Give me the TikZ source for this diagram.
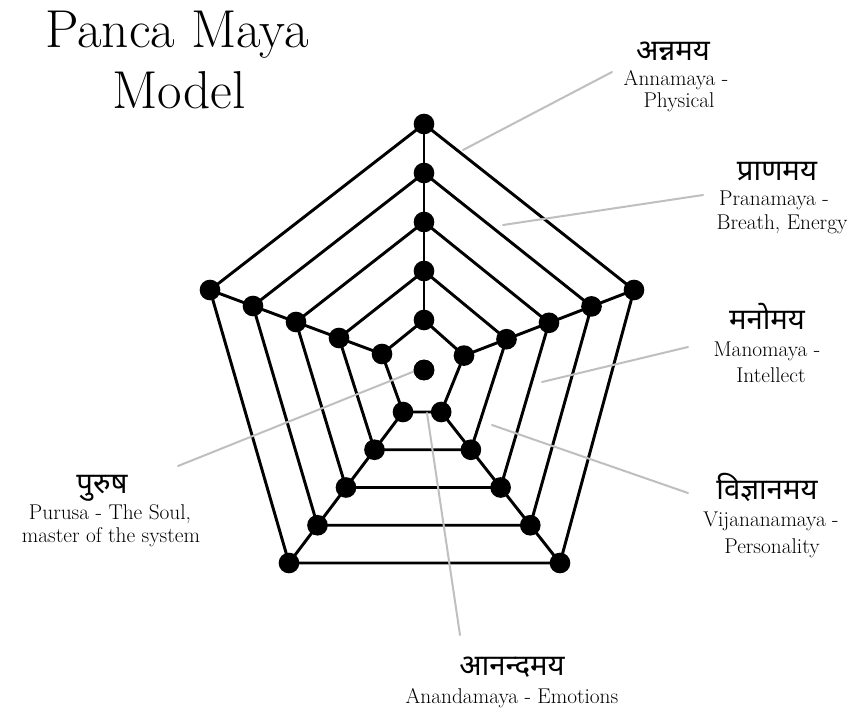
\documentclass[tikz,border=0pt]{standalone}
\usepackage{fontspec}
\newfontfamily\deva[Script=Devanagari]{Noto Sans}
\usepackage{tikz}

\tikzset{
  dot/.style={circle, fill=black, inner sep=0pt, minimum size=15.5pt},
  ring/.style={line width=2.2pt},
  leader/.style={black!25, line width=1.5pt},
  dname/.style={font=\deva\fontsize{22}{24}\selectfont, anchor=base, inner sep=0pt},
  ename/.style={font=\fontsize{16}{17}\selectfont\addfontfeature{LetterSpace=5}, anchor=base, inner sep=0pt},
  titletext/.style={font=\fontsize{40}{44}\selectfont\addfontfeature{LetterSpace=6}, anchor=base, inner sep=0pt},
}

\begin{document}
\begin{tikzpicture}[x=0.75pt, y=-0.75pt, line cap=round, line join=round]
    \useasboundingbox[fill=white] (0,0) rectangle (865,708);

    % Title
    \node[titletext] (title1) at (177,47) {Panca Maya};
    \node[titletext] (title2) at (179,108) {Model};

    % Dots of the five sheaths
    \node[dot] (c) at (424,370) {};
    \foreach \k in {1,...,5}{
        \node[dot] (t\k)  at (424, {369-49*\k}) {};
        \node[dot] (l\k)  at ({425-43*\k}, {370-16*\k}) {};
        \node[dot] (r\k)  at ({421.5+42.5*\k}, {372-16.4*\k}) {};
        \node[dot] (bl\k) at ({431.5-28.5*\k}, {374.25+37.75*\k}) {};
        \node[dot] (br\k) at ({411.5+29.7*\k}, {374.25+37.75*\k}) {};
    }

    % Rings
    \foreach \k in {1,...,5}{
        \draw[ring] (t\k.center) -- (r\k.center) -- (br\k.center) -- (bl\k.center) -- (l\k.center) -- cycle;
    }

    % Spokes
    \foreach \p in {t,l,r,bl,br}{
        \draw[ring] (\p1.center) -- (\p5.center);
    }

    % Leader lines
    \coordinate (a1) at (463,150);  \coordinate (a2) at (612,72);
    \coordinate (p1) at (503,225);  \coordinate (p2) at (703,195);
    \coordinate (m1) at (542,382);  \coordinate (m2) at (688,347);
    \coordinate (v1) at (492,425);  \coordinate (v2) at (688,493);
    \coordinate (n1) at (427,413);  \coordinate (n2) at (460,635);
    \coordinate (s1) at (420,369);  \coordinate (s2) at (178,466);
    \draw[leader] (a1) -- (a2);
    \draw[leader] (p1) -- (p2);
    \draw[leader] (m1) -- (m2);
    \draw[leader] (v1) -- (v2);
    \draw[leader] (n1) -- (n2);
    \draw[leader] (s1) -- (s2);
    \node[dot] at (c) {};

    % Labels
    \node[dname] (annad) at (673,60) {अन्नमय};
    \node[ename] (annae) at (676,85) {Annamaya -};
    \node[ename] (annap) at (679,107) {Physical};

    \node[dname] (pranad) at (777,180) {प्राणमय};
    \node[ename] (pranae) at (774,205) {Pranamaya -};
    \node[ename] (pranap) at (782,229) {Breath, Energy};

    \node[dname] (manod) at (767,329) {मनोमय};
    \node[ename] (manoe) at (767,356) {Manomaya -};
    \node[ename] (manop) at (771,382) {Intellect};

    \node[dname] (vijd) at (767,499) {विज्ञानमय};
    \node[ename] (vije) at (771,526) {Vijananamaya -};
    \node[ename] (vijp) at (772,553) {Personality};

    \node[dname] (purd) at (102,493) {पुरुष};
    \node[ename] (pure) at (110,519) {Purusa - The Soul,};
    \node[ename] (purp) at (111,542) {master of the system};

    \node[dname] (anad) at (512,675) {आनन्दमय};
    \node[ename] (anae) at (512,703) {Anandamaya - Emotions};
\end{tikzpicture}
\end{document}
